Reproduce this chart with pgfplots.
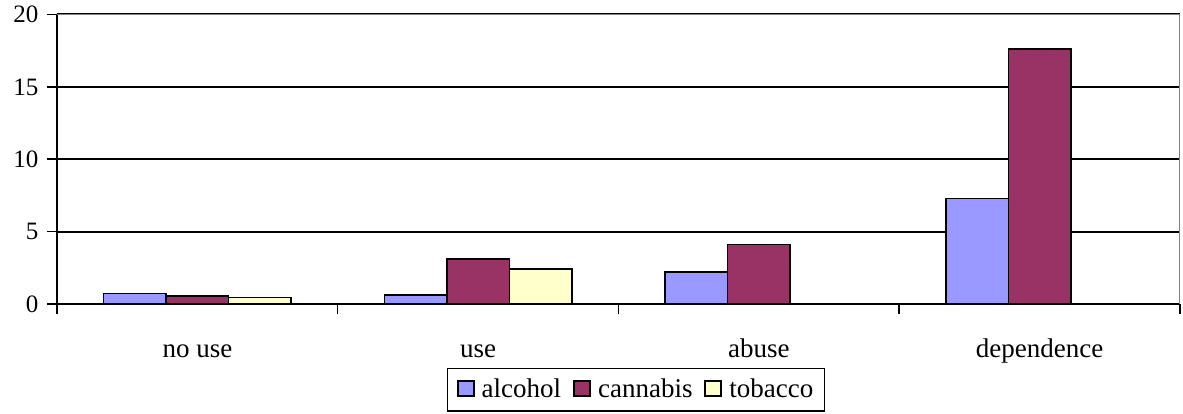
\documentclass[border=0pt]{standalone}
\usepackage{fontspec}
\setmainfont{Liberation Serif}
\usepackage{pgfplots}
\pgfplotsset{compat=1.18}

\definecolor{alcoholc}{HTML}{9999FF}
\definecolor{cannabisc}{HTML}{993366}
\definecolor{tobaccoc}{HTML}{FFFFCC}

\begin{document}
\fontsize{25bp}{30bp}\selectfont
\begin{tikzpicture}
\useasboundingbox (-57bp,-110bp) rectangle (1126bp,304bp);
\begin{axis}[
  at={(0,0)}, anchor=south west,
  scale only axis,
  width=1123bp, height=289.5bp,
  xmin=-0.5, xmax=3.5,
  ymin=0, ymax=20,
  ytick={0,5,10,15,20},
  xtick={0,1,2,3},
  xticklabels={no use, use, abuse, dependence},
  minor xtick={-0.5,0.5,1.5,2.5,3.5},
  major x tick style={draw=none},
  minor tick length=10bp,
  major tick length=10bp,
  tick align=outside,
  xtick pos=bottom, ytick pos=left,
  tick style={black, line width=1.5bp},
  ymajorgrids,
  grid style={black, line width=2bp},
  axis line style={black, line width=2bp},
  axis x line*=bottom, axis y line*=left,
  /pgf/number format/assume math mode=true,
  yticklabel style={font=\fontsize{25bp}{30bp}\selectfont, xshift=0bp},
  xticklabel style={font=\fontsize{27bp}{32bp}\selectfont, anchor=base, yshift=-43bp},
  ybar=0pt, bar width=62.5bp,
  every axis plot/.append style={draw=black, line width=1.5bp},
  legend columns=3,
  legend style={
    at={(0.5156,-0.297)}, anchor=center,
    draw=black, line width=1.5bp,
    font=\fontsize{27bp}{32bp}\selectfont,
    inner xsep=9bp, inner ysep=8bp,
    /tikz/every even column/.append style={column sep=10bp},
    /tikz/every odd column/.append style={column sep=5bp},
  },
  legend image code/.code={
    \draw[#1, line width=2bp] (0bp,-6bp) rectangle (16bp,9bp);
  },
]
\addplot[fill=alcoholc] coordinates {(0,0.71) (1,0.62) (2,2.21) (3,7.30)};
\addplot[fill=cannabisc] coordinates {(0,0.55) (1,3.10) (2,4.12) (3,17.60)};
\addplot[fill=tobaccoc] coordinates {(0,0.44) (1,2.42)};
\legend{alcohol, cannabis, tobacco}
\draw[gray, line width=1.5bp] (rel axis cs:0,1) -- (rel axis cs:1,1) -- (rel axis cs:1,0);
\end{axis}
\end{tikzpicture}
\end{document}
